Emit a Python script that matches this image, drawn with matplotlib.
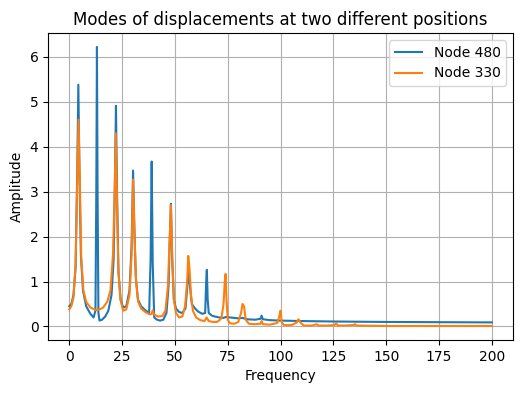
import numpy as np
import matplotlib
matplotlib.use("Agg")
import matplotlib.pyplot as plt

# Node 480 (blue) spectrum
freq_480 = [0, 1, 2, 3, 3.8, 4.3, 4.8, 5.5, 6.5, 8, 10, 11.5, 12.4, 12.8, 13.1, 13.4, 13.8,
            14.3, 15.5, 17, 18.5, 20, 21, 21.7, 22.1, 22.6, 23.3, 24.3, 25.5, 27, 28.5,
            29.5, 30.2, 30.8, 31.5, 32.5, 34, 36, 37.8, 38.5, 39.0, 39.5, 40.2, 41.5, 43,
            44.5, 46, 47, 47.6, 48.1, 48.7, 49.5, 50.5, 52, 53.5, 55, 55.8, 56.5, 57.2,
            58, 59.5, 61, 63, 64.3, 64.8, 65.1, 65.5, 66, 67.5, 69, 71, 73, 74, 76, 78,
            80, 82, 84, 88, 90.5, 91, 91.6, 95, 100, 110, 125, 150, 175, 200]
amp_480 = [0.45, 0.5, 0.7, 1.3, 3.5, 5.38, 3.5, 1.6, 0.8, 0.45, 0.28, 0.2, 0.35, 3.0, 6.22, 3.0, 0.3,
           0.13, 0.15, 0.22, 0.35, 0.7, 1.5, 3.5, 4.91, 3.0, 1.2, 0.6, 0.42, 0.45, 0.8,
           1.8, 3.47, 2.2, 1.1, 0.6, 0.45, 0.36, 0.3, 1.5, 3.67, 1.4, 0.2, 0.15, 0.13,
           0.15, 0.3, 0.9, 2.0, 2.73, 1.5, 0.6, 0.4, 0.32, 0.3, 0.4, 0.85, 1.28, 0.85,
           0.5, 0.4, 0.33, 0.28, 0.3, 1.0, 1.26, 0.6, 0.3, 0.24, 0.22, 0.2, 0.19, 0.21, 0.2, 0.19,
           0.18, 0.19, 0.16, 0.15, 0.17, 0.24, 0.16, 0.14, 0.13, 0.12, 0.11, 0.1, 0.095, 0.09]

# Node 330 (orange) spectrum
freq_330 = [0, 1, 2, 3, 3.8, 4.4, 5, 5.7, 6.7, 8, 10, 12, 13, 14.5, 16, 18, 19.5, 20.7,
            21.5, 22, 22.5, 23.2, 24.2, 25.5, 27, 28.5, 29.5, 30.2, 30.9, 31.6, 32.6, 34,
            36, 38, 39, 39.5, 40, 42, 44, 45.5, 46.7, 47.5, 48.1, 48.7, 49.5, 50.5, 52,
            53.5, 54.8, 55.8, 56.3, 56.9, 57.6, 58.5, 60, 62, 64, 65, 66, 68, 70, 72, 73,
            73.6, 74, 74.4, 75, 76, 78, 80, 81.3, 82, 82.7, 83.5, 85, 88, 90.5, 91, 91.6,
            95, 98.5, 99.5, 100, 100.5, 101.5, 105, 107.5, 108.5, 109.5, 111, 115, 117,
            118, 122, 125.5, 126.3, 127, 130, 134.5, 135.2, 136, 150, 175, 200]
amp_330 = [0.38, 0.45, 0.65, 1.4, 3.3, 4.6, 3.2, 1.5, 0.8, 0.55, 0.42, 0.38, 0.37, 0.38, 0.42, 0.55, 0.8, 1.6,
           3.0, 4.3, 3.0, 1.3, 0.6, 0.35, 0.38, 0.7, 1.6, 3.27, 2.0, 1.0, 0.55, 0.4,
           0.32, 0.27, 0.28, 0.36, 0.27, 0.22, 0.23, 0.35, 0.9, 1.9, 2.7, 1.6, 0.6, 0.3, 0.2,
           0.22, 0.45, 1.0, 1.57, 1.3, 0.7, 0.35, 0.2, 0.14, 0.12, 0.2, 0.12, 0.1, 0.1, 0.18, 0.5,
           1.0, 1.17, 0.6, 0.15, 0.07, 0.06, 0.1, 0.3, 0.5, 0.45, 0.15, 0.06, 0.05, 0.06, 0.12, 0.05,
           0.04, 0.08, 0.25, 0.35, 0.1, 0.03, 0.03, 0.08, 0.16, 0.08, 0.02, 0.02, 0.05,
           0.02, 0.02, 0.03, 0.07, 0.02, 0.02, 0.03, 0.05, 0.02, 0.01, 0.01, 0.01]

fig, ax = plt.subplots(figsize=(5.23, 3.93), dpi=100)
fig.subplots_adjust(left=0.092, right=0.981, top=0.916, bottom=0.135)
ax.plot(freq_480, amp_480, label="Node 480")
ax.plot(freq_330, amp_330, label="Node 330")
ax.set_title("Modes of displacements at two different positions")
ax.set_xlabel("Frequency")
ax.set_ylabel("Amplitude")
ax.grid(True)
ax.legend(loc="upper right")
fig.savefig("out.png", dpi=100)
